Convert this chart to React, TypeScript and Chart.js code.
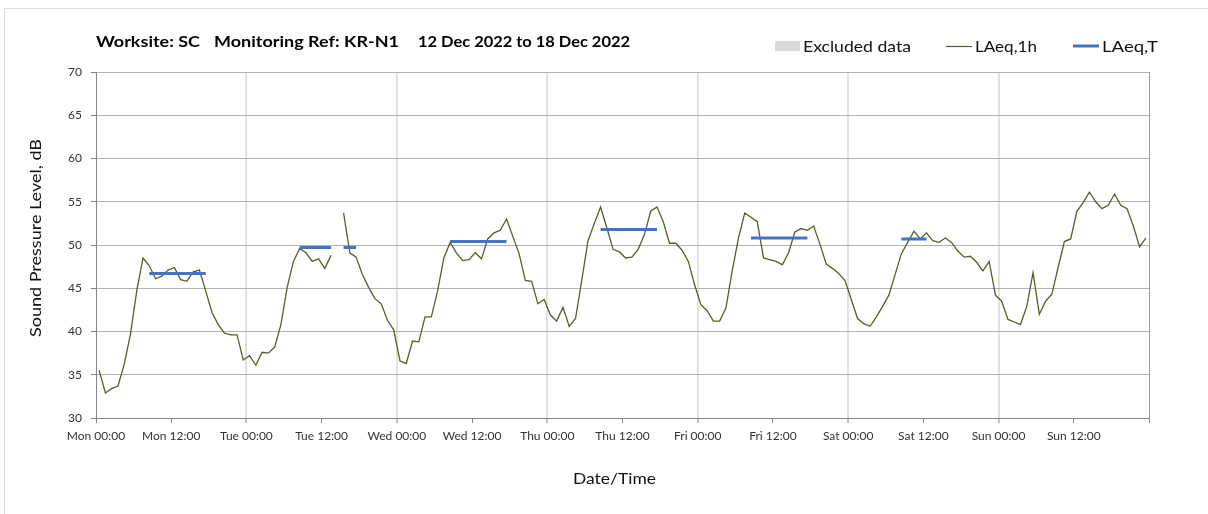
import React, { useEffect, useRef } from 'react';
import { Chart, registerables } from 'chart.js';

Chart.register(...registerables);

// ---- data ----
const tickLabels = [
  'Mon 00:00', 'Mon 12:00', 'Tue 00:00', 'Tue 12:00', 'Wed 00:00', 'Wed 12:00', 'Thu 00:00',
  'Thu 12:00', 'Fri 00:00', 'Fri 12:00', 'Sat 00:00', 'Sat 12:00', 'Sun 00:00', 'Sun 12:00',
];

// hourly LAeq,1h (hour index 0 = Mon 00:00), null = excluded / missing
const laeq1h: (number | null)[] = [
  35.5, 32.9, 33.4, 33.7, 36.2, 39.7, 44.7, 48.5, 47.6, 46.1, 46.4, 47.1,
  47.4, 46.0, 45.8, 46.9, 47.1, 44.7, 42.2, 40.8, 39.8, 39.6, 39.6, 36.7,
  37.2, 36.1, 37.6, 37.5, 38.2, 40.8, 45.1, 48.1, 49.6, 49.1, 48.1, 48.4,
  47.3, 48.8, null, 53.7, 49.1, 48.6, 46.6, 45.1, 43.8, 43.2, 41.3, 40.2,
  36.6, 36.3, 38.9, 38.8, 41.7, 41.7, 44.7, 48.5, 50.3, 49.1, 48.2, 48.3,
  49.1, 48.4, 50.7, 51.4, 51.7, 53.0, 51.0, 49.0, 45.9, 45.8, 43.2, 43.7,
  41.9, 41.2, 42.8, 40.6, 41.5, 45.9, 50.5, 52.5, 54.4, 52.0, 49.5, 49.2,
  48.5, 48.6, 49.5, 51.2, 53.9, 54.4, 52.7, 50.2, 50.2, 49.4, 48.1, 45.4,
  43.1, 42.4, 41.2, 41.2, 42.7, 47.0, 50.8, 53.7, 53.2, 52.7, 48.5, 48.3,
  48.1, 47.7, 49.1, 51.5, 51.9, 51.7, 52.2, 50.1, 47.8, 47.3, 46.7, 45.9,
  43.7, 41.5, 40.9, 40.6, 41.7, 42.9, 44.2, 46.6, 49.0, 50.3, 51.6, 50.7,
  51.4, 50.5, 50.3, 50.8, 50.3, 49.3, 48.6, 48.7, 48.0, 47.0, 48.1, 44.2,
  43.5, 41.4, 41.1, 40.8, 42.9, 46.8, 42.0, 43.5, 44.3, 47.4, 50.4, 50.7,
  53.9, 54.9, 56.1, 55.0, 54.2, 54.6, 55.9, 54.6, 54.2, 52.2, 49.8, 50.8,
];

// LAeq,T periods (start hour index, end hour index, level)
const laeqTStart = [8, 32, 39, 56, 80, 104, 128];
const laeqTEnd = [17, 37, 41, 65, 89, 113, 132];
const laeqTValue = [46.7, 49.7, 49.7, 50.4, 51.8, 50.8, 50.7];

const titleParts = ['Worksite: SC', 'Monitoring Ref: KR-N1', '12 Dec 2022 to 18 Dec 2022'];
const legendLabels = ['Excluded data', 'LAeq,1h', 'LAeq,T'];
const yAxisTitle = 'Sound Pressure Level, dB';
const xAxisTitle = 'Date/Time';

const GREEN = '#4f6228';
const BLUE = '#4472c4';
const GREY_BOX = '#d9d9d9';
const FONT = 'Lato, "Open Sans", sans-serif';

function fitText(
  ctx: CanvasRenderingContext2D, text: string, x: number, y: number, width: number,
  font: string, color: string, rotate = false,
) {
  ctx.save();
  ctx.font = font;
  ctx.fillStyle = color;
  ctx.textBaseline = 'middle';
  const w = ctx.measureText(text).width || 1;
  ctx.translate(x, y);
  if (rotate) {
    ctx.rotate(-Math.PI / 2);
    ctx.scale(width / w, 1);
    ctx.textAlign = 'center';
    ctx.fillText(text, 0, 0);
  } else {
    ctx.scale(width / w, 1);
    ctx.textAlign = 'left';
    ctx.fillText(text, 0, 0);
  }
  ctx.restore();
}

const overlayPlugin = {
  id: 'overlay',
  afterDraw(chart: any) {
    const ctx: CanvasRenderingContext2D = chart.ctx;
    // title
    const tX = [96, 214, 418];
    const tW = [104, 185, 212];
    titleParts.forEach((t, i) => fitText(ctx, t, tX[i], 42, tW[i], `bold 15px ${FONT}`, '#000'));

    // legend
    ctx.save();
    ctx.fillStyle = GREY_BOX;
    ctx.fillRect(775, 41, 25, 10);
    ctx.strokeStyle = GREEN;
    ctx.lineWidth = 1.2;
    ctx.beginPath();
    ctx.moveTo(946, 46.5);
    ctx.lineTo(972, 46.5);
    ctx.stroke();
    ctx.strokeStyle = BLUE;
    ctx.lineWidth = 3;
    ctx.beginPath();
    ctx.moveTo(1073, 46);
    ctx.lineTo(1099, 46);
    ctx.stroke();
    ctx.restore();
    const lX = [803, 975, 1102];
    const lW = [108, 62, 56];
    legendLabels.forEach((t, i) => fitText(ctx, t, lX[i], 47, lW[i], `15px ${FONT}`, '#111'));

    // axis titles
    fitText(ctx, yAxisTitle, 36, 238, 198, `15px ${FONT}`, '#111', true);
    fitText(ctx, xAxisTitle, 573, 479, 83, `15px ${FONT}`, '#111');
  },
};

export default function App() {
  const canvasRef = useRef<HTMLCanvasElement | null>(null);

  useEffect(() => {
    const canvas = canvasRef.current;
    if (!canvas) return;

    const lineData = laeq1h.map((v, i) => ({ x: i + 0.5, y: v }));
    const tData: { x: number; y: number | null }[] = [];
    laeqTStart.forEach((s, k) => {
      tData.push({ x: s + 0.5, y: laeqTValue[k] });
      tData.push({ x: laeqTEnd[k] + 0.5, y: laeqTValue[k] });
      tData.push({ x: laeqTEnd[k] + 0.75, y: null });
    });

    const chart = new Chart(canvas, {
      type: 'line',
      data: {
        datasets: [
          {
            label: 'LAeq,T',
            data: tData as any,
            borderColor: BLUE,
            backgroundColor: BLUE,
            borderWidth: 3,
            pointRadius: 0,
            tension: 0,
            spanGaps: false,
            borderCapStyle: 'butt',
          },
          {
            label: 'LAeq,1h',
            data: lineData as any,
            borderColor: GREEN,
            backgroundColor: GREEN,
            borderWidth: 1.3,
            pointRadius: 0,
            tension: 0,
            spanGaps: false,
          },
        ],
      },
      options: {
        responsive: false,
        animation: false,
        parsing: true,
        layout: { padding: { top: 72, right: 59, left: 0, bottom: 0 } },
        plugins: {
          legend: { display: false },
          title: { display: false },
          tooltip: { enabled: false },
        },
        scales: {
          x: {
            type: 'linear',
            min: 0,
            max: 168,
            afterFit: (s: any) => { s.height = 96; },
            ticks: {
              stepSize: 12,
              autoSkip: false,
              maxRotation: 0,
              minRotation: 0,
              padding: 6,
              color: '#333',
              font: { family: FONT, size: 12 },
              callback: (v: any) => {
                const idx = Math.round(Number(v) / 12);
                return tickLabels[idx] ?? '';
              },
            },
            grid: {
              color: (c: any) => {
                const v = c.tick ? c.tick.value : 0;
                if (v === 168) return '#9a9a9a';
                if (v % 24 === 0 && v !== 0) return '#e2e2e2';
                return 'rgba(0,0,0,0)';
              },
              lineWidth: (c: any) => {
                const v = c.tick ? c.tick.value : 0;
                return v % 24 === 0 && v !== 0 && v !== 168 ? 2 : 1;
              },
              tickColor: '#868686',
              tickWidth: 1,
              tickLength: 5,
              drawTicks: true,
            },
            border: { display: true, color: '#868686', width: 1 },
          },
          y: {
            type: 'linear',
            min: 30,
            max: 70,
            afterFit: (s: any) => { s.width = 96; },
            ticks: {
              stepSize: 5,
              padding: 9,
              color: '#333',
              font: { family: FONT, size: 12 },
            },
            grid: {
              color: '#b3b3b3',
              lineWidth: 1,
              tickColor: '#868686',
              tickLength: 5,
            },
            border: { display: true, color: '#868686', width: 1 },
          },
        },
      },
      plugins: [overlayPlugin],
    });

    return () => chart.destroy();
  }, []);

  return (
    <div style={{ position: 'absolute', left: 0, top: 0, width: 1208, height: 514, overflow: 'hidden', background: '#fff' }}>
      <div style={{ position: 'absolute', left: 4, top: 8, width: 1400, height: 700, border: '1px solid #d9d9d9' }} />
      <canvas ref={canvasRef} width={1208} height={514} style={{ position: 'absolute', left: 0, top: 0, width: 1208, height: 514 }} />
    </div>
  );
}
